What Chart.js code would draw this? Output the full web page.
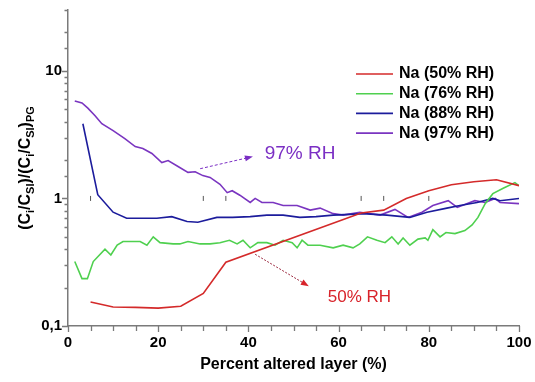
<!DOCTYPE html>
<html>
<head>
<meta charset="utf-8">
<script src="https://cdn.jsdelivr.net/npm/chart.js@4/dist/chart.umd.min.js"></script>
<style>
  html, body { margin: 0; padding: 0; background: #fff; }
  #wrap { width: 535px; height: 382px; }
</style>
</head>
<body>
<div id="wrap"><canvas id="c" width="535" height="382"></canvas></div>
<script>
// Na enrichment vs. depth in the altered layer, four relative humidities
const seriesLabels = ['Na (50% RH)', 'Na (76% RH)', 'Na (88% RH)', 'Na (97% RH)'];

const rh50X = [5, 10, 15, 20, 25, 30, 35, 65, 70, 75, 80, 85, 90, 95, 100];
const rh50Y = [0.154, 0.141, 0.140, 0.138, 0.143, 0.180, 0.316, 0.77, 0.81, 1.00, 1.15, 1.28, 1.35, 1.40, 1.26];

const rh76X = [1.5, 3.1, 4.3, 5.6, 8.2, 9.5, 10.9, 12.2, 16.0, 17.5, 18.9, 20.4, 23.3, 24.8, 26.6, 29.3,
  31.5, 33.7, 35.8, 37.5, 38.8, 40.4, 42.1, 44.1, 45.9, 47.7, 49.7, 50.8, 51.9, 53.2, 55.9, 58.8,
  61.0, 63.2, 64.7, 66.4, 68.5, 70.3, 71.8, 73.2, 74.3, 75.8, 77.6, 79.2, 79.8, 80.9, 82.5, 83.8,
  85.8, 88.0, 89.6, 90.9, 92.5, 94.2, 96.5, 99.1, 100];
const rh76Y = [0.32, 0.235, 0.235, 0.32, 0.40, 0.36, 0.43, 0.46, 0.46, 0.43, 0.50, 0.45, 0.44, 0.44, 0.46, 0.44,
  0.44, 0.45, 0.47, 0.44, 0.47, 0.41, 0.45, 0.45, 0.43, 0.47, 0.45, 0.41, 0.47, 0.43, 0.43, 0.41,
  0.43, 0.41, 0.44, 0.50, 0.47, 0.45, 0.50, 0.44, 0.49, 0.43, 0.48, 0.49, 0.47, 0.57, 0.50, 0.54,
  0.53, 0.56, 0.62, 0.71, 0.91, 1.09, 1.20, 1.33, 1.26];

const rh88X = [3.3, 6.6, 10.0, 13.0, 19.7, 23.0, 26.4, 28.8, 33.0, 36.5, 40.4, 44.1, 47.7, 51.4, 55.0,
  58.8, 62.5, 65.4, 70.7, 75.8, 79.6, 84.0, 86.9, 90.7, 94.2, 95.8, 100];
const rh88Y = [3.85, 1.07, 0.78, 0.70, 0.70, 0.72, 0.66, 0.65, 0.71, 0.71, 0.72, 0.74, 0.74, 0.71, 0.72,
  0.74, 0.75, 0.76, 0.74, 0.71, 0.78, 0.84, 0.88, 0.93, 1.00, 0.96, 1.00];

const rh97X = [1.5, 3.1, 4.4, 6.0, 7.5, 10.0, 12.6, 14.9, 16.6, 18.6, 20.8, 22.2, 24.4, 26.6, 28.2, 29.9,
  31.5, 33.7, 35.3, 36.4, 38.1, 40.4, 41.5, 43.0, 45.5, 47.7, 50.8, 53.7, 55.9, 58.8, 61.0, 64.7,
  69.2, 72.5, 75.4, 78.5, 80.9, 84.3, 86.3, 90.2, 92.5, 94.7, 95.8, 100];
const rh97Y = [5.8, 5.6, 5.1, 4.45, 3.85, 3.4, 2.94, 2.55, 2.46, 2.25, 1.91, 1.98, 1.78, 1.60, 1.62, 1.51,
  1.46, 1.29, 1.11, 1.15, 1.06, 0.93, 1.00, 0.93, 0.93, 0.88, 0.88, 0.81, 0.84, 0.76, 0.74, 0.78,
  0.74, 0.82, 0.71, 0.78, 0.88, 0.96, 0.85, 0.96, 0.93, 1.00, 0.93, 0.91];

// short vertical marks sitting on the unity line
const markX = [5, 30, 35, 65, 70, 80];
const markY = [1, 1, 1, 1, 1, 1];

const xTickLabels = [0, 20, 40, 60, 80, 100];
const yTickLabels = { '0.1': '0,1', '1': '1', '10': '10' };

const FONT = "'Liberation Sans', Arial, Helvetica, sans-serif";
const colors = ['#d42a2a', '#4fd04f', '#1c1c9c', '#7a35c0'];

const pts = (xs, ys) => xs.map((x, i) => ({ x: x, y: ys[i] }));

function lineSet(label, xs, ys, color) {
  return {
    label: label, data: pts(xs, ys),
    borderColor: color, backgroundColor: color,
    borderWidth: 1.6, pointRadius: 0, tension: 0, fill: false
  };
}

const datasets = [
  lineSet(seriesLabels[0], rh50X, rh50Y, colors[0]),
  lineSet(seriesLabels[1], rh76X, rh76Y, colors[1]),
  lineSet(seriesLabels[2], rh88X, rh88Y, colors[2]),
  lineSet(seriesLabels[3], rh97X, rh97Y, colors[3]),
  {
    label: '', isMark: true, data: pts(markX, markY), showLine: false,
    pointStyle: 'line', rotation: 90, pointRadius: 2.5, borderWidth: 1,
    borderColor: '#555', backgroundColor: '#555'
  }
];

function isDecade(v) {
  const l = Math.log10(v);
  return Math.abs(l - Math.round(l)) < 1e-6;
}
function decadeKey(v) {
  return String(Math.pow(10, Math.round(Math.log10(v))));
}

// outward tick marks, long for labelled values, short for the others
const tickMarks = {
  id: 'tickMarks',
  afterDraw(chart) {
    const ctx = chart.ctx, xs = chart.scales.x, ys = chart.scales.y;
    const area = chart.chartArea;
    ctx.save();
    ctx.strokeStyle = '#7a7a7a';
    ctx.lineWidth = 1.3;
    ctx.beginPath();
    xs.ticks.forEach(t => {
      const p = Math.round(xs.getPixelForValue(t.value)) + 0.5;
      const len = xTickLabels.includes(t.value) ? 6 : 5;
      ctx.moveTo(p, area.bottom);
      ctx.lineTo(p, area.bottom + len);
    });
    ys.ticks.forEach(t => {
      const p = Math.round(ys.getPixelForValue(t.value)) + 0.5;
      const len = isDecade(t.value) ? 6 : 3.5;
      ctx.moveTo(area.left, p);
      ctx.lineTo(area.left - len, p);
    });
    ctx.stroke();
    ctx.restore();
  }
};

// rotated y title with subscripts
const yTitle = {
  id: 'yTitle',
  afterDraw(chart) {
    const ctx = chart.ctx;
    const parts = [
      ['(C', 0], ['i', 1], ['/C', 0], ['SI', 1], [')/(C', 0], ['i', 1], ['/C', 0], ['SI', 1], [')', 0], ['PG', 1]
    ];
    const big = 'bold 16px ' + FONT, small = 'bold 11px ' + FONT;
    ctx.save();
    let total = 0;
    parts.forEach(p => { ctx.font = p[1] ? small : big; total += ctx.measureText(p[0]).width; });
    const area = chart.chartArea;
    ctx.translate(26, (area.top + area.bottom) / 2);
    ctx.rotate(-Math.PI / 2);
    ctx.fillStyle = '#000';
    ctx.textBaseline = 'middle';
    let x = -total / 2;
    parts.forEach(p => {
      ctx.font = p[1] ? small : big;
      ctx.fillText(p[0], x, p[1] ? 5 : 0);
      x += ctx.measureText(p[0]).width;
    });
    ctx.restore();
  }
};

// legend box in the upper right of the plot
const lineLegend = {
  id: 'lineLegend',
  afterDraw(chart) {
    const ctx = chart.ctx;
    ctx.save();
    ctx.font = 'bold 16px ' + FONT;
    ctx.textBaseline = 'middle';
    let row = 0;
    chart.data.datasets.forEach(ds => {
      if (ds.isMark) return;
      const y = 74 + row * 19.7;
      ctx.strokeStyle = ds.borderColor;
      ctx.lineWidth = 1.6;
      ctx.beginPath();
      ctx.moveTo(356, y);
      ctx.lineTo(393, y);
      ctx.stroke();
      ctx.fillStyle = '#000';
      ctx.fillText(ds.label, 399, y);
      row++;
    });
    ctx.restore();
  }
};

// call-out labels with arrows, placed in data coordinates
const callouts = [
  { text: '97% RH', color: '#7b2fc4', lineColor: '#7b2fc4', dash: [3, 2], size: 19,
    from: [29.3, 1.71], to: [41.0, 2.13], at: [43.6, 2.25] },
  { text: '50% RH', color: '#d8232a', lineColor: '#9c2a40', dash: [2, 1.5], size: 17,
    from: [41.5, 0.365], to: [53.4, 0.205], at: [57.6, 0.168] }
];
const calloutPlugin = {
  id: 'callouts',
  afterDatasetsDraw(chart) {
    const ctx = chart.ctx, xs = chart.scales.x, ys = chart.scales.y;
    ctx.save();
    callouts.forEach(c => {
      const x1 = xs.getPixelForValue(c.from[0]), y1 = ys.getPixelForValue(c.from[1]);
      const x2 = xs.getPixelForValue(c.to[0]), y2 = ys.getPixelForValue(c.to[1]);
      const ang = Math.atan2(y2 - y1, x2 - x1);
      ctx.strokeStyle = c.lineColor;
      ctx.lineWidth = 1;
      ctx.setLineDash(c.dash);
      ctx.beginPath();
      ctx.moveTo(x1, y1);
      ctx.lineTo(x2 - 6 * Math.cos(ang), y2 - 6 * Math.sin(ang));
      ctx.stroke();
      ctx.setLineDash([]);
      ctx.fillStyle = c.color;
      ctx.beginPath();
      ctx.moveTo(x2, y2);
      ctx.lineTo(x2 - 8 * Math.cos(ang) + 3 * Math.sin(ang), y2 - 8 * Math.sin(ang) - 3 * Math.cos(ang));
      ctx.lineTo(x2 - 8 * Math.cos(ang) - 3 * Math.sin(ang), y2 - 8 * Math.sin(ang) + 3 * Math.cos(ang));
      ctx.closePath();
      ctx.fill();
      ctx.font = c.size + 'px ' + FONT;
      ctx.textBaseline = 'middle';
      ctx.fillText(c.text, xs.getPixelForValue(c.at[0]), ys.getPixelForValue(c.at[1]));
    });
    ctx.restore();
  }
};

// axis boxes keep no extra room for overhanging edge labels
function noEdgePadding(s) {
  s.paddingLeft = 0; s.paddingRight = 0; s.paddingTop = 0; s.paddingBottom = 0;
}

new Chart(document.getElementById('c'), {
  type: 'line',
  data: { datasets: datasets },
  options: {
    responsive: false,
    animation: false,
    devicePixelRatio: 1,
    layout: { padding: { top: 10, right: 16, left: 0, bottom: 0 } },
    plugins: { legend: { display: false }, tooltip: { enabled: false } },
    scales: {
      x: {
        type: 'linear', min: 0, max: 100,
        grid: { display: false, drawTicks: false },
        border: { display: true, color: '#7a7a7a', width: 1.5 },
        ticks: {
          stepSize: 5, autoSkip: false, maxRotation: 0, padding: 8,
          color: '#000', font: { family: FONT, size: 15, weight: 'bold' },
          callback: v => xTickLabels.includes(v) ? String(v) : ''
        },
        title: {
          display: true, text: 'Percent altered layer (%)', color: '#000',
          font: { family: FONT, size: 16, weight: 'bold' }, padding: { top: 4, bottom: 8 }
        },
        afterFit: s => { s.height = 56; noEdgePadding(s); }
      },
      y: {
        type: 'logarithmic', min: 0.1, max: 30,
        grid: { display: false, drawTicks: false },
        border: { display: true, color: '#7a7a7a', width: 1.5 },
        ticks: {
          autoSkip: false, padding: 6,
          color: '#000', font: { family: FONT, size: 15, weight: 'bold' },
          callback: v => isDecade(v) ? (yTickLabels[decadeKey(v)] || '') : ''
        },
        afterFit: s => { s.width = 68; noEdgePadding(s); }
      }
    }
  },
  plugins: [tickMarks, yTitle, lineLegend, calloutPlugin]
});
</script>
</body>
</html>
